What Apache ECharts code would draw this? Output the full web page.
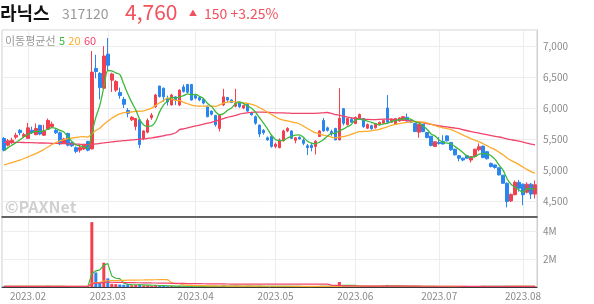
<!DOCTYPE html>
<html><head><meta charset="utf-8">
<script src="https://cdn.jsdelivr.net/npm/echarts@6/dist/echarts.min.js"></script>
<style>html,body{margin:0;padding:0;background:#fff}#c{width:594px;height:304px}</style>
</head><body><div id="c"></div>
<script>
// trading days per month (categories)
const tradingDays = [
  ['2023-01',[20,25,26,27,30,31]],
  ['2023-02',[1,2,3,6,7,8,9,10,13,14,15,16,17,20,21,22,23,24,27,28]],
  ['2023-03',[2,3,6,7,8,9,10,13,14,15,16,17,20,21,22,23,24,27,28,29,30,31]],
  ['2023-04',[3,4,5,6,7,10,11,12,13,14,17,18,19,20,21,24,25,26,27,28]],
  ['2023-05',[2,3,4,8,9,10,11,12,15,16,17,18,19,22,23,24,25,26,30,31]],
  ['2023-06',[1,2,5,7,8,9,12,13,14,15,16,19,20,21,22,23,26,27,28,29,30]],
  ['2023-07',[3,4,5,6,7,10,11,12,13,14,17,18,19,20,21,24,25,26,27,28,31]],
  ['2023-08',[1,2,3,4]]
];
const opens = [5510,5400,5440,5530,5640,5540,5510,5640,5570,5720,5560,5660,5700,5640,5600,5430,5590,5440,5360,5320,5340,5460,
5340,6640,6560,6320,6870,6450,6290,6250,6140,5960,5810,5700,5810,5510,5610,5845,6020,6355,6320,6150,6050,6180,6050,
6340,6380,6380,6200,6170,6140,6020,5950,5880,5670,6050,6170,6130,6030,6090,6000,6060,5925,5860,5725,5640,5520,5545,5380,5360,5470,5630,5630,5480,5530,5480,5390,5400,5380,5540,5800,5680,5620,5670,5485,5990,5730,5820,5750,
5835,5830,5675,5715,5680,5740,5755,6000,5770,5740,5790,5810,5850,5800,5750,5610,5735,5605,5545,5380,5445,5460,5550,5445,5335,5230,5190,5230,5160,5215,5325,5385,5295,5105,5080,5035,4915,4785,4500,4600,4800,4770,4640,4770,4610];
const closes = [5320,5470,5480,5560,5600,5570,5680,5600,5670,5580,5630,5800,5740,5600,5420,5500,5400,5390,5300,5360,5400,5320,
6580,6590,6330,6840,6690,6550,6430,6200,6060,5915,5850,5830,5410,5630,5800,5885,6210,6185,6180,6100,6210,6130,6290,
6265,6255,6130,6160,6130,6080,5860,5900,5730,5880,6180,6130,6090,6075,6020,6040,5950,5890,5755,5580,5600,5485,5380,5415,5485,5630,5670,5510,5520,5500,5430,5360,5360,5465,5630,5630,5640,5580,5485,5835,5755,5830,5770,5850,
5895,5700,5735,5665,5750,5770,5800,5770,5820,5830,5840,5860,5790,5770,5620,5735,5620,5525,5395,5455,5425,5420,5470,5325,5245,5190,5160,5190,5215,5335,5375,5200,5180,5055,5040,4920,4785,4490,4605,4800,4705,4600,4770,4610,4760];
const highs = [5530,5500,5520,5600,5660,5600,5760,5700,5750,5730,5730,5830,5780,5660,5620,5520,5600,5460,5380,5400,5420,5470,
6920,6860,6580,7000,7130,6570,6450,6330,6180,6000,5870,5840,5830,5640,5830,5920,6230,6360,6330,6200,6230,6190,6300,
6380,6390,6390,6230,6180,6150,6040,5960,5890,5890,6310,6180,6140,6310,6100,6050,6070,5940,5880,5730,5660,5540,5560,5440,5510,5650,5690,5640,5530,5540,5510,5420,5440,5480,5640,5840,5700,5650,5680,6320,6000,5840,5850,5860,
5910,5840,5750,5730,5760,5780,5810,6210,5830,5840,5850,5870,5910,5810,5760,5745,5740,5610,5550,5460,5530,5560,5560,5450,5340,5240,5200,5240,5220,5340,5430,5390,5300,5120,5090,5040,4920,4800,4620,4830,4840,4780,4800,4790,4830];
const lows = [5300,5380,5420,5500,5560,5520,5500,5580,5560,5560,5550,5650,5680,5580,5400,5420,5380,5370,5270,5280,5320,5300,
5330,6480,6140,6300,6600,6260,6260,6150,6000,5850,5790,5640,5350,5480,5590,5810,6000,6170,6100,6040,6040,6050,6030,
6250,6240,6120,6140,6110,6060,5850,5880,5700,5620,6030,6100,6080,6010,6000,5980,5940,5880,5730,5530,5570,5470,5360,5350,5350,5460,5610,5500,5430,5490,5400,5240,5300,5250,5530,5620,5620,5550,5480,5480,5720,5720,5760,5740,
5820,5680,5660,5650,5670,5730,5740,5760,5760,5730,5780,5800,5780,5760,5610,5520,5610,5510,5380,5370,5410,5410,5460,5310,5230,5140,5140,5180,5120,5200,5300,5190,5170,5040,5020,4910,4780,4395,4480,4590,4650,4430,4620,4530,4540];
const volumes = [52000,38000,41000,35000,47000,30000,60000,33000,42000,39000,36000,95000,48000,31000,44000,29000,37000,28000,33000,26000,30000,41000,
4680000,1050000,350000,1750000,620000,230000,210000,180000,160000,200000,120000,150000,190000,110000,120000,80000,140000,90000,80000,60000,70000,50000,90000,
55000,50000,60000,45000,40000,48000,60000,42000,50000,70000,110000,45000,40000,90000,42000,60000,80000,40000,45000,55000,40000,38000,45000,36000,40000,50000,42000,38000,35000,30000,32000,40000,34000,45000,50000,70000,38000,32000,40000,360000,120000,60000,40000,50000,
45000,50000,35000,38000,36000,40000,100000,150000,45000,42000,40000,38000,50000,36000,40000,45000,35000,40000,42000,36000,34000,32000,30000,35000,38000,40000,33000,30000,36000,42000,40000,45000,38000,36000,35000,40000,42000,60000,48000,50000,45000,52000,40000,44000,48000];
// moving-average values before the window
const ma5Start = [5310,5360,5400,5440];
const ma20Start = [5080,5100,5120,5140,5160,5185,5210,5240,5265,5295,5330,5370,5410,5440,5470,5490,5505,5515,5525];
const ma60Start = [5445,5445,5445,5445,5445,5443,5440,5440,5438,5435,5435,5432,5430,5430,5428,5425,5422,5420,5418,5415,5413,5410,
5410,5420,5428,5436,5445,5452,5460,5466,5472,5478,5484,5490,5496,5502,5510,5518,5528,5540,5552,5565,5580,5600,5650,
5665,5680,5695,5710,5725,5740,5755,5770,5790,5810,5830,5850,5865,5880];

const RED = '#f2404e', BLUE = '#2b85ee', GREEN = '#3cb93c', ORANGE = '#fdab2c', PINK = '#f0446c';
const dates = [];
tradingDays.forEach(([m, ds]) => ds.forEach(d => dates.push(m + '-' + String(d).padStart(2, '0'))));
const monthStart = dates.map((d, i) => i > 0 && d.slice(0, 7) !== dates[i - 1].slice(0, 7));
const kdata = opens.map((o, i) => [o, closes[i], lows[i], highs[i]]);

function ma(arr, n, start) {
  return arr.map((v, i) => {
    if (start && i < start.length) return start[i];
    const from = Math.max(0, i - n + 1);
    let s = 0; for (let k = from; k <= i; k++) s += arr[k];
    return Math.round(s / (i - from + 1));
  });
}
const FONT = "'Noto Sans CJK KR','Noto Sans',sans-serif";
const chart = echarts.init(document.getElementById('c'), null, {renderer: 'canvas'});
const splitInt = (idx) => monthStart[idx];
chart.setOption({
  animation: false,
  grid: [
    {left: 2, right: 57, top: 30, height: 187, show: true, borderColor: '#cfcfcf', borderWidth: 1},
    {left: 2, right: 57, top: 217, height: 70, show: true, borderColor: '#cfcfcf', borderWidth: 1}
  ],
  xAxis: [
    {type: 'category', gridIndex: 0, data: dates, boundaryGap: true,
     axisLine: {show: true, lineStyle: {color: '#3a3a3a', width: 1.5}}, axisTick: {show: false}, axisLabel: {show: false},
     splitLine: {show: true, interval: splitInt, alignWithLabel: true, lineStyle: {color: '#ececec', width: 1}}},
    {type: 'category', gridIndex: 1, data: dates, boundaryGap: true,
     axisLine: {show: true, lineStyle: {color: '#3a3a3a', width: 1}}, axisTick: {show: false},
     axisLabel: {show: true, interval: splitInt, margin: 4, color: '#8a8a8a', fontSize: 10, fontFamily: FONT,
       formatter: v => v.slice(0, 7).replace('-', '.')},
     splitLine: {show: true, interval: splitInt, alignWithLabel: true, lineStyle: {color: '#ececec', width: 1}}}
  ],
  yAxis: [
    {type: 'value', gridIndex: 0, position: 'right', min: 4240, max: 7260, scale: true,
     axisLine: {show: true, lineStyle: {color: '#cfcfcf'}}, axisTick: {show: false},
     axisLabel: {color: '#8a8a8a', fontSize: 10, fontFamily: FONT, margin: 6, showMinLabel: false, showMaxLabel: false,
       formatter: v => v.toLocaleString('en-US')},
     splitLine: {show: true, lineStyle: {color: '#ececec'}}},
    {type: 'value', gridIndex: 1, position: 'right', min: 0, max: 5050000, interval: 2000000,
     axisLine: {show: true, lineStyle: {color: '#cfcfcf'}}, axisTick: {show: false},
     axisLabel: {color: '#8a8a8a', fontSize: 10, fontFamily: FONT, margin: 6, showMinLabel: false, showMaxLabel: false,
       formatter: v => (v / 1e6) + 'M'},
     splitLine: {show: true, lineStyle: {color: '#ececec'}}}
  ],
  series: [
    {type: 'candlestick', xAxisIndex: 0, yAxisIndex: 0, data: kdata, barWidth: 3,
     itemStyle: {color: RED, color0: BLUE, borderColor: RED, borderColor0: BLUE, borderWidth: 1}},
    {type: 'line', xAxisIndex: 0, yAxisIndex: 0, data: ma(closes, 60, ma60Start), showSymbol: false, smooth: 0.3, z: 3,
     lineStyle: {color: PINK, width: 1.3}},
    {type: 'line', xAxisIndex: 0, yAxisIndex: 0, data: ma(closes, 20, ma20Start), showSymbol: false, smooth: 0.3, z: 3,
     lineStyle: {color: ORANGE, width: 1.3}},
    {type: 'line', xAxisIndex: 0, yAxisIndex: 0, data: ma(closes, 5, ma5Start), showSymbol: false, smooth: 0.3, z: 4,
     lineStyle: {color: GREEN, width: 1.3}},
    {type: 'bar', xAxisIndex: 1, yAxisIndex: 1, data: volumes, barWidth: 3,
     itemStyle: {color: p => closes[p.dataIndex] >= opens[p.dataIndex] ? RED : BLUE}},
    {type: 'line', xAxisIndex: 1, yAxisIndex: 1, data: ma(volumes, 5), showSymbol: false, z: 3,
     lineStyle: {color: GREEN, width: 1.2}},
    {type: 'line', xAxisIndex: 1, yAxisIndex: 1, data: ma(volumes, 20), showSymbol: false, z: 4,
     lineStyle: {color: ORANGE, width: 1.2}},
    {type: 'line', xAxisIndex: 1, yAxisIndex: 1, data: ma(volumes, 60), showSymbol: false, z: 5,
     lineStyle: {color: PINK, width: 1.2}}
  ],
  graphic: [
    {type: 'text', x: 0, y: 13, style: {text: '라닉스', font: 'bold 18px ' + FONT, fill: '#111', verticalAlign: 'middle'}},
    {type: 'text', x: 62, y: 14, style: {text: '317120', font: '14px ' + FONT, fill: '#999', verticalAlign: 'middle'}},
    {type: 'text', x: 125, y: 12, style: {text: '4,760', font: '21px ' + FONT, fill: '#f2505c', verticalAlign: 'middle'}},
    {type: 'text', x: 189, y: 13, style: {text: '▲', font: '8px ' + FONT, fill: '#f2505c', verticalAlign: 'middle'}},
    {type: 'text', x: 204, y: 14, style: {text: '150 +3.25%', font: '14px ' + FONT, fill: '#f2505c', verticalAlign: 'middle'}},
    {type: 'text', x: 5, y: 41, z: 10, style: {text: '{a|이동평균선} {g|5} {o|20} {r|60}', verticalAlign: 'middle',
      rich: {a: {fontSize: 11, fontFamily: FONT, fill: '#999'}, g: {fontSize: 11, fontFamily: FONT, fill: GREEN},
             o: {fontSize: 11, fontFamily: FONT, fill: ORANGE}, r: {fontSize: 11, fontFamily: FONT, fill: PINK}}}},
    {type: 'text', x: 5, y: 207, z: 10, style: {text: '©PAXNet', font: 'bold 16px ' + FONT, fill: '#d0d0d0', verticalAlign: 'middle'}}
  ]
});
</script></body></html>
